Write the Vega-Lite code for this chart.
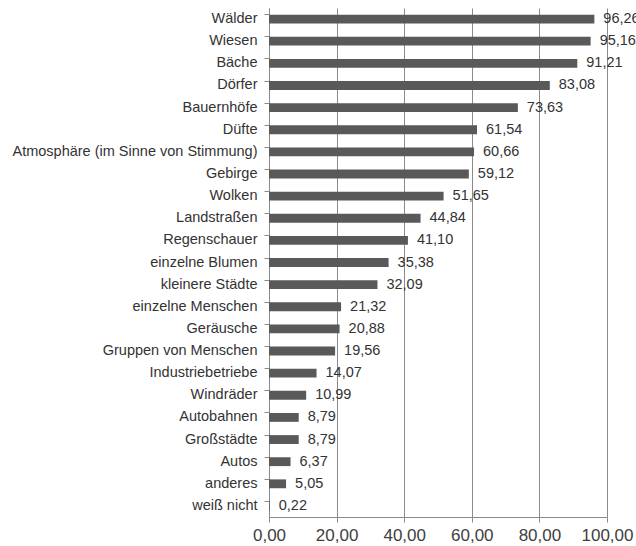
{
  "$schema": "https://vega.github.io/schema/vega-lite/v6.json",
  "autosize": {"type": "none"},
  "padding": {"left": 269, "top": 8, "right": 29, "bottom": 29},
  "width": 338,
  "height": 509,
  "background": "white",
  "data": {
    "values": [
      {"kategorie": "Wälder", "anteil": 96.26},
      {"kategorie": "Wiesen", "anteil": 95.16},
      {"kategorie": "Bäche", "anteil": 91.21},
      {"kategorie": "Dörfer", "anteil": 83.08},
      {"kategorie": "Bauernhöfe", "anteil": 73.63},
      {"kategorie": "Düfte", "anteil": 61.54},
      {"kategorie": "Atmosphäre (im Sinne von Stimmung)", "anteil": 60.66},
      {"kategorie": "Gebirge", "anteil": 59.12},
      {"kategorie": "Wolken", "anteil": 51.65},
      {"kategorie": "Landstraßen", "anteil": 44.84},
      {"kategorie": "Regenschauer", "anteil": 41.10},
      {"kategorie": "einzelne Blumen", "anteil": 35.38},
      {"kategorie": "kleinere Städte", "anteil": 32.09},
      {"kategorie": "einzelne Menschen", "anteil": 21.32},
      {"kategorie": "Geräusche", "anteil": 20.88},
      {"kategorie": "Gruppen von Menschen", "anteil": 19.56},
      {"kategorie": "Industriebetriebe", "anteil": 14.07},
      {"kategorie": "Windräder", "anteil": 10.99},
      {"kategorie": "Autobahnen", "anteil": 8.79},
      {"kategorie": "Großstädte", "anteil": 8.79},
      {"kategorie": "Autos", "anteil": 6.37},
      {"kategorie": "anderes", "anteil": 5.05},
      {"kategorie": "weiß nicht", "anteil": 0.22}
    ]
  },
  "encoding": {
    "y": {
      "field": "kategorie",
      "type": "nominal",
      "sort": null,
      "title": null,
      "scale": {"paddingInner": 0.6, "paddingOuter": 0.3},
      "axis": {
        "bandPosition": 0,
        "domainColor": "#8a8a8a",
        "tickColor": "#8a8a8a",
        "tickSize": 5,
        "labelPadding": 7,
        "labelLimit": 400,
        "labelFont": "Liberation Sans",
        "labelFontSize": 14.5,
        "labelColor": "#333333",
        "grid": false
      }
    },
    "x": {
      "field": "anteil",
      "type": "quantitative",
      "title": null,
      "scale": {"domain": [0, 100], "nice": false},
      "axis": {
        "values": [0, 20, 40, 60, 80, 100],
        "labelExpr": "replace(format(datum.value, '.2f'), '.', ',')",
        "grid": true,
        "gridColor": "#8a8a8a",
        "gridWidth": 1,
        "domainColor": "#8a8a8a",
        "tickColor": "#8a8a8a",
        "tickSize": 5,
        "labelPadding": 5,
        "labelFont": "Liberation Sans",
        "labelFontSize": 17,
        "labelColor": "#404040",
        "labelFlush": false
      }
    }
  },
  "layer": [
    {
      "mark": {"type": "bar", "color": "#595959"}
    },
    {
      "mark": {
        "type": "text",
        "align": "left",
        "baseline": "middle",
        "dx": 9,
        "font": "Liberation Sans",
        "fontSize": 14.5,
        "color": "#333333"
      },
      "encoding": {
        "text": {"field": "anteil", "type": "quantitative", "format": ".2f", "formatType": "number"}
      }
    }
  ],
  "config": {
    "view": {"stroke": null},
    "locale": {
      "number": {"decimal": ",", "thousands": ".", "grouping": [3], "currency": ["", " €"]}
    }
  }
}
